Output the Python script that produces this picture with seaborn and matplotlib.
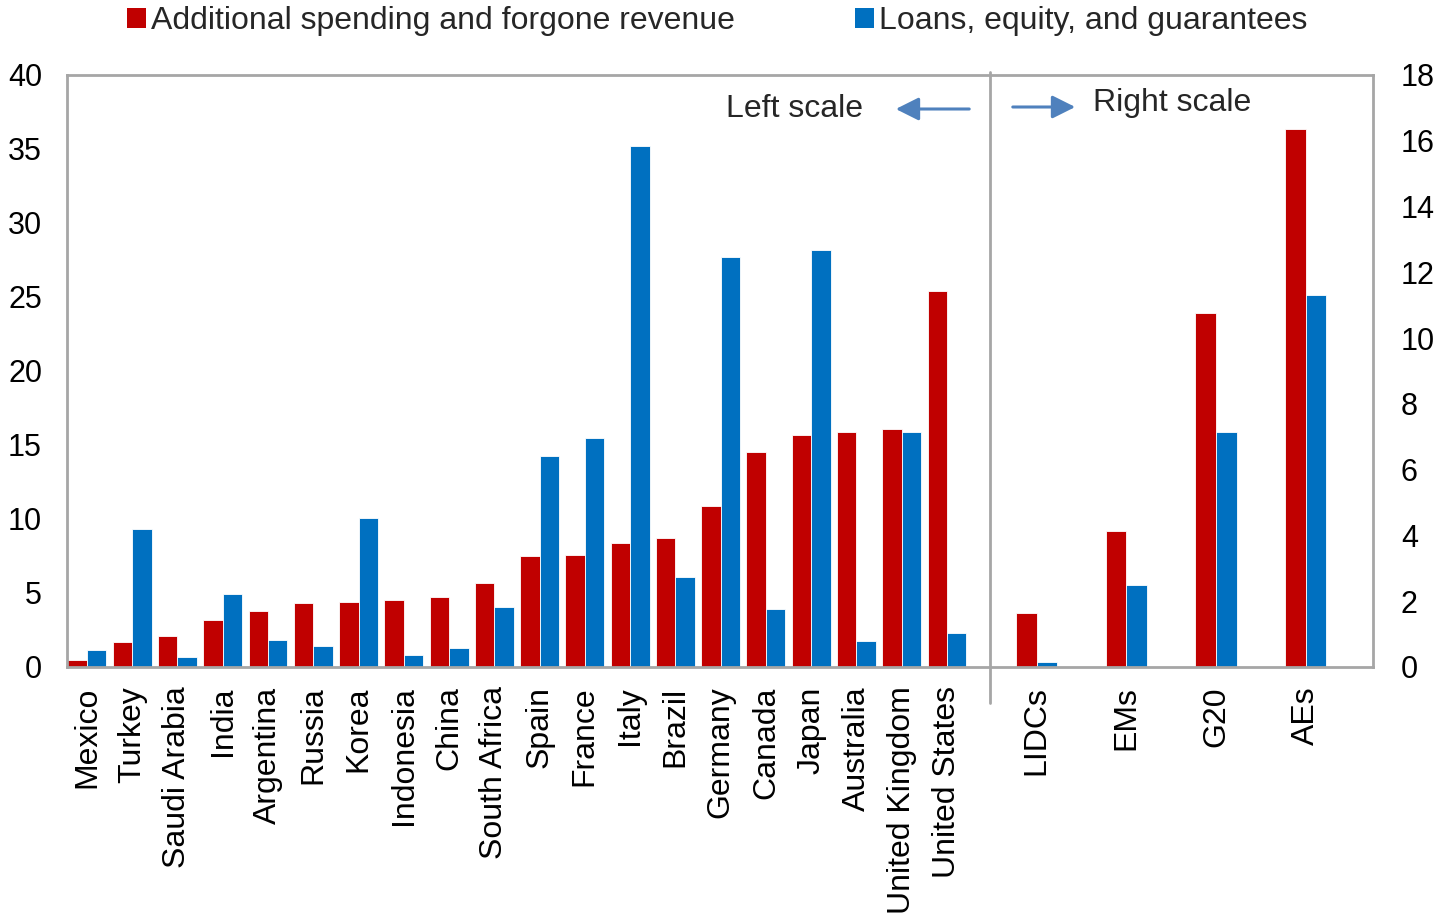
import numpy as np
import pandas as pd
import matplotlib
matplotlib.use("Agg")
import matplotlib.pyplot as plt
import seaborn as sns
from matplotlib.patches import Patch, FancyArrowPatch
from matplotlib.lines import Line2D

# ---------------- data ----------------
countries = ["Mexico", "Turkey", "Saudi Arabia", "India", "Argentina", "Russia",
             "Korea", "Indonesia", "China", "South Africa", "Spain", "France",
             "Italy", "Brazil", "Germany", "Canada", "Japan", "Australia",
             "United Kingdom", "United States"]
spending = [0.5, 1.7, 2.1, 3.2, 3.8, 4.3, 4.4, 4.5, 4.7, 5.7, 7.5, 7.6,
            8.4, 8.7, 10.9, 14.5, 15.7, 15.9, 16.1, 25.4]
loans = [1.15, 9.3, 0.7, 4.9, 1.8, 1.4, 10.1, 0.8, 1.3, 4.05, 14.25, 15.5,
         35.2, 6.1, 27.7, 3.9, 28.2, 1.75, 15.9, 2.3]

groups = ["LIDCs", "EMs", "G20", "AEs"]
group_spending = [1.65, 4.15, 10.75, 16.35]
group_loans = [0.15, 2.5, 7.15, 11.3]

series_names = ["Additional spending and forgone revenue",
                "Loans, equity, and guarantees"]
left_ticks = [0, 5, 10, 15, 20, 25, 30, 35, 40]
right_ticks = [0, 2, 4, 6, 8, 10, 12, 14, 16, 18]

RED = "#C00000"
BLUE = "#0070C0"
GRAY = "#A6A6A6"
ARROW = "#4F81BD"

# ---------------- style ----------------
sns.set_theme(style="white")
plt.rcParams["font.family"] = ["Liberation Sans", "DejaVu Sans"]

W, H = 1445, 918
fig = plt.figure(figsize=(W / 100, H / 100), dpi=100)

x_left, x_div, x_right = 67, 990, 1373
y_top, y_bot = 75, 667
ax1 = fig.add_axes([x_left / W, 1 - y_bot / H, (x_div - x_left) / W, (y_bot - y_top) / H])
ax2 = fig.add_axes([x_div / W, 1 - y_bot / H, (x_right - x_div) / W, (y_bot - y_top) / H])

df1 = pd.DataFrame({
    "name": countries * 2,
    "series": [series_names[0]] * len(countries) + [series_names[1]] * len(countries),
    "value": spending + loans,
})
df2 = pd.DataFrame({
    "name": groups * 2,
    "series": [series_names[0]] * len(groups) + [series_names[1]] * len(groups),
    "value": group_spending + group_loans,
})

sns.barplot(data=df1, x="name", y="value", hue="series", hue_order=series_names,
            palette=[RED, BLUE], width=0.86, saturation=1, errorbar=None,
            edgecolor="white", linewidth=0.6, legend=False, ax=ax1)
sns.barplot(data=df2, x="name", y="value", hue="series", hue_order=series_names,
            palette=[RED, BLUE], width=0.46, saturation=1, errorbar=None,
            edgecolor="white", linewidth=0.6, legend=False, ax=ax2)

ax1.set_xlim(-0.44, len(countries) - 1 + 0.95)
ax1.set_ylim(0, 40)
ax1.set_yticks(left_ticks)
ax2.set_xlim(-0.52, 3.75)
ax2.set_ylim(0, 18)
ax2.set_yticks(right_ticks)
ax2.yaxis.tick_right()

for ax in (ax1, ax2):
    ax.set_xlabel("")
    ax.set_ylabel("")
    ax.set_facecolor("none")
    for s in ax.spines.values():
        s.set_color(GRAY)
        s.set_linewidth(2)
    ax.tick_params(axis="both", length=0, colors="black")
    ax.tick_params(axis="y", labelsize=22)
    ax.tick_params(axis="x", rotation=90, pad=14, labelsize=23)
ax1.spines["right"].set_visible(False)
ax2.spines["left"].set_visible(False)
ax1.tick_params(axis="y", pad=18)
ax2.tick_params(axis="y", pad=20)

# divider line
fig.add_artist(Line2D([x_div / W, x_div / W], [1 - 72 / H, 1 - 703 / H],
                      color=GRAY, lw=2))

# legend
handles = [Patch(facecolor=RED, edgecolor="none"), Patch(facecolor=BLUE, edgecolor="none")]
fig.legend(handles=handles, labels=series_names, loc="center",
           bbox_to_anchor=(717 / W, 1 - 21 / H), ncol=2, frameon=False,
           fontsize=23, handlelength=0.6, handleheight=0.6,
           handletextpad=0.15, columnspacing=3.75)

# scale annotations
fig.text(795 / W, 1 - 109 / H, "Left scale", ha="center", va="center", fontsize=23)
fig.text(1172 / W, 1 - 103 / H, "Right scale", ha="center", va="center", fontsize=23)
fig.add_artist(FancyArrowPatch(
    (972 / W, 1 - 109 / H), (893 / W, 1 - 109 / H), transform=fig.transFigure,
    arrowstyle="-|>,head_length=1.0,head_width=0.5", mutation_scale=14,
    color=ARROW, lw=2.2))
fig.add_artist(FancyArrowPatch(
    (1010 / W, 1 - 107 / H), (1078 / W, 1 - 107 / H), transform=fig.transFigure,
    arrowstyle="-|>,head_length=1.0,head_width=0.5", mutation_scale=14,
    color=ARROW, lw=2.2))

fig.savefig("out.png", dpi=100)
